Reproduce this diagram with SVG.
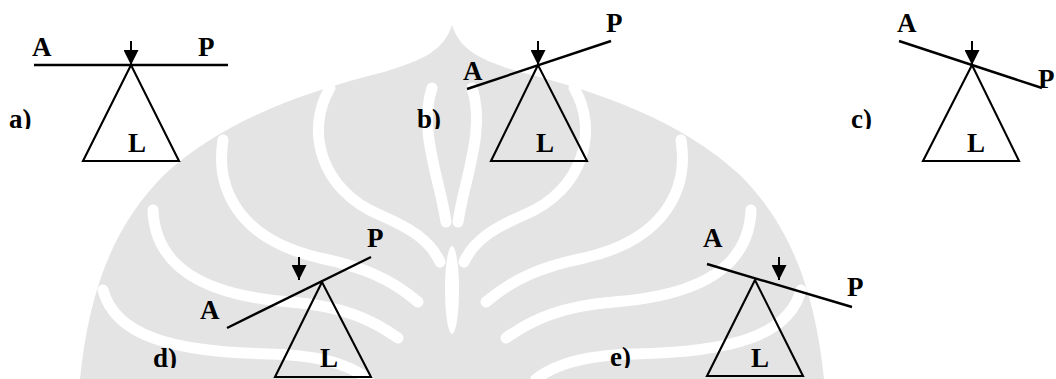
<svg xmlns="http://www.w3.org/2000/svg" width="1056" height="379" viewBox="0 0 1056 379">
  <style>
    .beam { stroke: #000; stroke-width: 2.4; fill: none; }
    .tri { stroke: #000; stroke-width: 2.1; fill: none; stroke-linejoin: miter; }
    .force { stroke: #000; stroke-width: 2; fill: none; marker-end: url(#head); }
    text { font-family: "Liberation Serif", "DejaVu Serif", serif; font-weight: 700; font-size: 27px; fill: #000; }
    .band { stroke: #fff; stroke-width: 11; fill: none; stroke-linecap: round; }
  </style>
  <defs>
    <marker id="head" viewBox="0 0 16 16" refX="16" refY="8" markerWidth="16" markerHeight="15" markerUnits="userSpaceOnUse" orient="auto">
      <path d="M0,0 L16,8 L0,16 Z" fill="#000"/>
    </marker>
    <clipPath id="clipTop"><rect x="0" y="0" width="1056" height="129"/></clipPath>
    <clipPath id="clipBot"><rect x="0" y="0" width="1056" height="368"/></clipPath>
  </defs>

  <rect width="1056" height="379" fill="#fff"/>

  <g id="watermark">
    <path d="M452,25 C460,50 480,60 520,72 C600,92 680,120 740,175 C790,225 815,290 824,379 L80,379 C89,290 114,225 164,175 C224,120 304,92 384,72 C424,60 444,50 452,25 Z" fill="#e4e4e4"/>
    <g id="bands-left">
      <path class="band" d="M330,88 C305,130 320,190 380,215 C410,228 430,240 440,262"/>
      <path class="band" d="M223,140 C215,190 240,240 320,258 C360,266 390,278 418,302"/>
      <path class="band" d="M153,210 C155,265 200,295 290,302 C340,306 370,318 398,338"/>
      <path class="band" d="M103,290 C115,335 170,352 270,354 C320,355 350,365 368,379"/>
      <path class="band" d="M432,88 C418,130 440,180 446,222" stroke-width="13"/>
    </g>
    <g id="bands-right" transform="translate(904,0) scale(-1,1)">
      <path class="band" d="M330,88 C305,130 320,190 380,215 C410,228 430,240 440,262"/>
      <path class="band" d="M223,140 C215,190 240,240 320,258 C360,266 390,278 418,302"/>
      <path class="band" d="M153,210 C155,265 200,295 290,302 C340,306 370,318 398,338"/>
      <path class="band" d="M103,290 C115,335 170,352 270,354 C320,355 350,365 368,379"/>
      <path class="band" d="M432,88 C418,130 440,180 446,222" stroke-width="13"/>
    </g>
    <ellipse cx="452" cy="290" rx="7" ry="44" fill="#fff"/>
  </g>

  <g id="connectors">
    <line class="force" x1="131" y1="41" x2="131" y2="65"/>
    <line class="force" x1="538" y1="41" x2="538" y2="65"/>
    <line class="force" x1="972" y1="41" x2="972" y2="65"/>
    <line class="force" x1="299" y1="257" x2="299" y2="280"/>
    <line class="force" x1="779" y1="257" x2="779" y2="280"/>
  </g>

  <g id="case-a">
    <line class="beam" x1="34" y1="65" x2="228" y2="65"/>
    <polygon class="tri" points="131,65 83,161 179,161"/>
    <text x="32" y="56">A</text>
    <text x="198" y="56">P</text>
    <text x="128" y="152">L</text>
    <text x="9" y="128" clip-path="url(#clipTop)">a)</text>
  </g>

  <g id="case-b">
    <line class="beam" x1="467" y1="89" x2="611" y2="41"/>
    <polygon class="tri" points="538,65 491,161 587,161"/>
    <text x="463" y="80">A</text>
    <text x="606" y="32">P</text>
    <text x="536" y="152">L</text>
    <text x="417" y="128" clip-path="url(#clipTop)">b)</text>
  </g>

  <g id="case-c">
    <line class="beam" x1="899" y1="41" x2="1042" y2="88"/>
    <polygon class="tri" points="972,65 923,161 1019,161"/>
    <text x="897" y="32">A</text>
    <text x="1038" y="88">P</text>
    <text x="967" y="152">L</text>
    <text x="851" y="128" clip-path="url(#clipTop)">c)</text>
  </g>

  <g id="case-d">
    <line class="beam" x1="227" y1="328" x2="371" y2="257"/>
    <polygon class="tri" points="322,282 275,377 371,377"/>
    <text x="200" y="319">A</text>
    <text x="367" y="247">P</text>
    <text x="320" y="367">L</text>
    <text x="153" y="367" clip-path="url(#clipBot)">d)</text>
  </g>

  <g id="case-e">
    <line class="beam" x1="707" y1="264" x2="852" y2="307"/>
    <polygon class="tri" points="755,280 707,376 803,376"/>
    <text x="703" y="247">A</text>
    <text x="847" y="296">P</text>
    <text x="751" y="367">L</text>
    <text x="610" y="366" clip-path="url(#clipBot)">e)</text>
  </g>
</svg>
